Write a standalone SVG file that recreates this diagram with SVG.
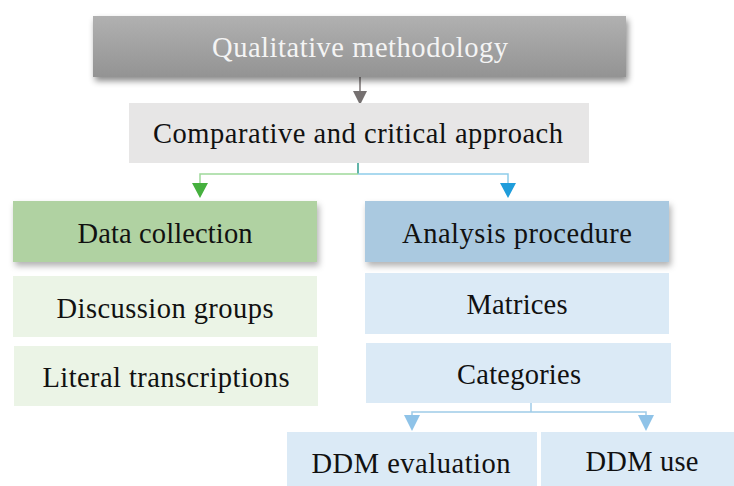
<svg xmlns="http://www.w3.org/2000/svg" width="734" height="486" viewBox="0 0 734 486">
<defs>
<linearGradient id="gTop" x1="0" y1="0" x2="0" y2="1">
<stop offset="0" stop-color="#b1b1b1"/>
<stop offset="1" stop-color="#939393"/>
</linearGradient>
<filter id="sh" x="-10%" y="-20%" width="125%" height="160%">
<feDropShadow dx="2" dy="4" stdDeviation="3" flood-color="#000" flood-opacity="0.45"/>
</filter>
<filter id="sh2" x="-10%" y="-20%" width="125%" height="160%">
<feDropShadow dx="2" dy="4" stdDeviation="3" flood-color="#000" flood-opacity="0.3"/>
</filter>
</defs>
<style>
text{font-family:"Liberation Serif","Times New Roman",serif;font-size:28.5px;text-anchor:middle;fill:#111}
.w{fill:#f4f4f4}
.lg{fill:#ebf4e6}
.lb{fill:#dbeaf6}
</style>
<rect width="734" height="486" fill="#fff"/>
<g id="connectors" fill="none">
<line x1="360" y1="77" x2="360" y2="92" stroke="#7b7575" stroke-width="1.5"/>
<polygon points="353,91 367,91 360,105" fill="#767171"/>
<line x1="358" y1="163" x2="358" y2="174" stroke="#2e9c8c" stroke-width="1.5"/>
<polyline points="358,174 200,174 200,185" stroke="#9fd99a" stroke-width="1.5"/>
<polyline points="358,174 508,174 508,185" stroke="#8fcdea" stroke-width="1.5"/>
<polygon points="192,183 208,183 200,198" fill="#45b03e"/>
<polygon points="500,183 516,183 508,198" fill="#1f9ddb"/>
<line x1="531" y1="403" x2="531" y2="412" stroke="#9fcbe8" stroke-width="1.5"/>
<polyline points="412,418 412,412 646,412 646,418" stroke="#9fcbe8" stroke-width="1.5"/>
<polygon points="404,415 420,415 412,431" fill="#8fc3e8"/>
<polygon points="638,415 654,415 646,431" fill="#8fc3e8"/>
</g>
<g id="n-qualitative">
<rect x="93" y="16" width="533" height="61" fill="url(#gTop)" filter="url(#sh)"/>
<text class="w" x="360" y="57" textLength="296">Qualitative methodology</text>
</g>
<g id="n-comparative">
<rect x="129" y="103" width="460" height="60" fill="#e7e6e6"/>
<text x="358" y="143" textLength="410">Comparative and critical approach</text>
</g>
<g id="n-data">
<rect x="13" y="201" width="304" height="61" fill="#b0d2a2" filter="url(#sh2)"/>
<text x="165" y="243" textLength="175">Data collection</text>
</g>
<g id="n-analysis">
<rect x="365" y="201" width="304" height="61" fill="#aac9e0" filter="url(#sh2)"/>
<text x="517" y="243" textLength="230">Analysis procedure</text>
</g>
<g id="n-discussion">
<rect class="lg" x="13" y="276" width="304" height="61"/>
<text x="165" y="318" textLength="217">Discussion groups</text>
</g>
<g id="n-literal">
<rect class="lg" x="14" y="346" width="304" height="60"/>
<text x="166" y="387" textLength="247">Literal transcriptions</text>
</g>
<g id="n-matrices">
<rect class="lb" x="365" y="273" width="304" height="61"/>
<text x="517" y="314" textLength="101">Matrices</text>
</g>
<g id="n-categories">
<rect class="lb" x="366" y="343" width="305" height="60"/>
<text x="519" y="384" textLength="124">Categories</text>
</g>
<g id="n-ddm-eval">
<rect class="lb" x="287" y="432" width="250" height="54"/>
<text x="411" y="473" textLength="199">DDM evaluation</text>
</g>
<g id="n-ddm-use">
<rect class="lb" x="541" y="432" width="193" height="54"/>
<text x="642" y="471" textLength="113">DDM use</text>
</g>
</svg>
